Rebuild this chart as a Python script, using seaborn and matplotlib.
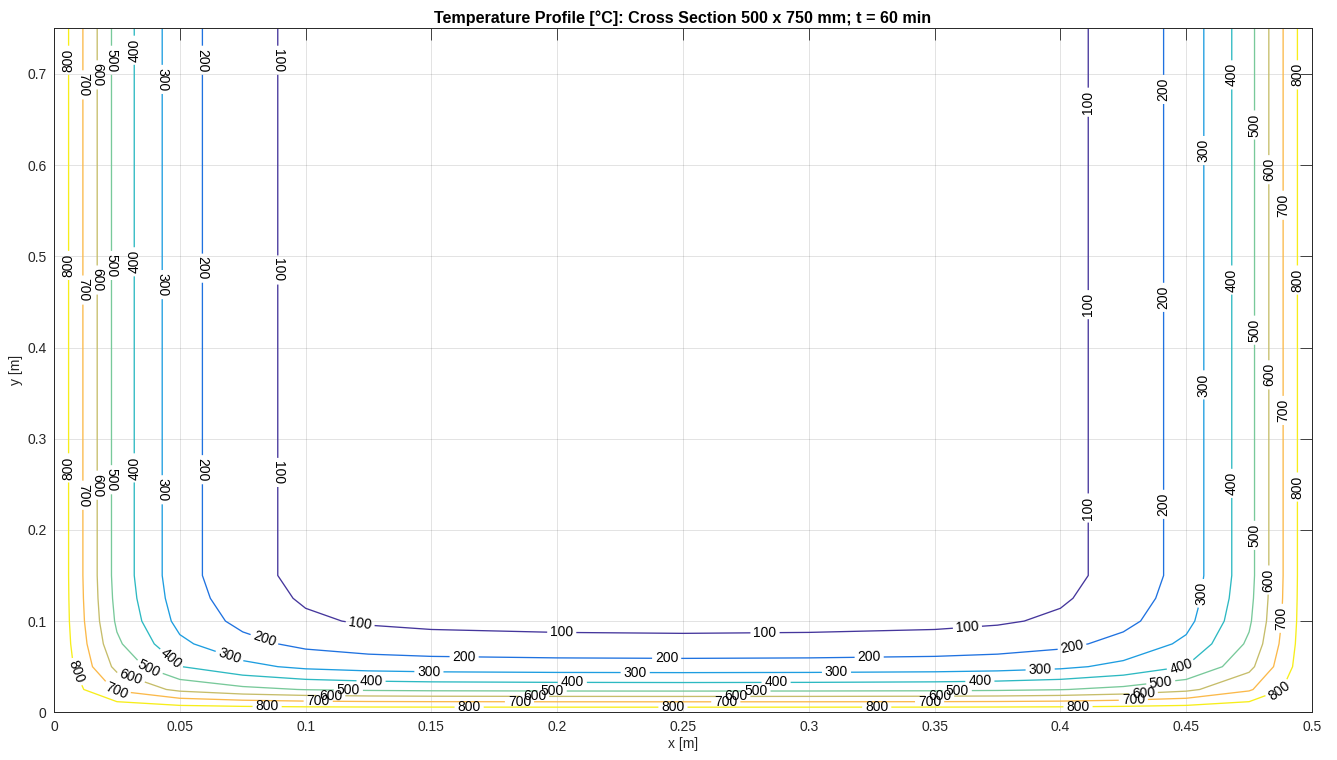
import numpy as np
import matplotlib
matplotlib.use("Agg")
import matplotlib.pyplot as plt
import seaborn as sns

# ---------------- data ----------------
# 1D temperature profiles [°C] versus distance [m] from a heated face
dist_nodes = [0.0, 0.025, 0.05, 0.075, 0.1, 0.125, 0.15, 0.2, 0.25]
temp_side = [902, 462, 237, 134, 73, 45, 32, 23, 20]
temp_bottom = [895, 470, 240, 130, 65, 36, 20, 20, 20]
temp_initial = 20
section_width = 0.5
section_height = 0.75

levels = [100, 200, 300, 400, 500, 600, 700, 800]
level_colors = ["#45369c", "#1f72e0", "#1d9de0", "#2db9c2",
                "#78c99a", "#c6bd6a", "#fbb94a", "#f7ee1a"]

x_ticks = [0, 0.05, 0.1, 0.15, 0.2, 0.25, 0.3, 0.35, 0.4, 0.45, 0.5]
x_tick_labels = ["0", "0.05", "0.1", "0.15", "0.2", "0.25", "0.3", "0.35", "0.4", "0.45", "0.5"]
y_ticks = [0, 0.1, 0.2, 0.3, 0.4, 0.5, 0.6, 0.7]
y_tick_labels = ["0", "0.1", "0.2", "0.3", "0.4", "0.5", "0.6", "0.7"]

title = "Temperature Profile [°C]: Cross Section 500 x 750 mm; t = 60 min"
x_label = "x [m]"
y_label = "y [m]"

# approximate label anchor points (snapped onto the contour of that level)
label_points = {
    800: [(0.006, 0.715), (0.006, 0.49), (0.006, 0.268), (0.0077, 0.043),
          (0.0847, 0.006), (0.165, 0.006), (0.246, 0.006), (0.327, 0.006), (0.407, 0.006),
          (0.4865, 0.027), (0.4945, 0.699), (0.4945, 0.474), (0.4945, 0.247)],
    700: [(0.0115, 0.688), (0.0115, 0.463), (0.0115, 0.238), (0.0249, 0.0245),
          (0.105, 0.012), (0.185, 0.012), (0.267, 0.012), (0.348, 0.012), (0.429, 0.012),
          (0.488, 0.103), (0.4885, 0.556), (0.4885, 0.331)],
    600: [(0.017, 0.699), (0.017, 0.474), (0.017, 0.249), (0.030, 0.0336),
          (0.110, 0.018), (0.191, 0.018), (0.271, 0.018), (0.352, 0.018), (0.433, 0.018),
          (0.483, 0.595), (0.483, 0.370), (0.483, 0.145)],
    500: [(0.023, 0.715), (0.023, 0.49), (0.023, 0.255), (0.0375, 0.046),
          (0.117, 0.025), (0.198, 0.025), (0.279, 0.025), (0.359, 0.025), (0.440, 0.030),
          (0.477, 0.644), (0.477, 0.419), (0.477, 0.194)],
    400: [(0.032, 0.726), (0.032, 0.494), (0.032, 0.268), (0.046, 0.057),
          (0.126, 0.032), (0.206, 0.032), (0.287, 0.032), (0.368, 0.032), (0.448, 0.05),
          (0.468, 0.699), (0.468, 0.474), (0.468, 0.251)],
    300: [(0.043, 0.694), (0.043, 0.469), (0.043, 0.244), (0.0693, 0.058),
          (0.149, 0.043), (0.231, 0.043), (0.311, 0.043), (0.392, 0.043),
          (0.457, 0.130), (0.457, 0.616), (0.457, 0.359)],
    200: [(0.059, 0.715), (0.059, 0.487), (0.059, 0.266), (0.0825, 0.071),
          (0.163, 0.059), (0.2435, 0.059), (0.324, 0.059), (0.405, 0.066),
          (0.441, 0.683), (0.441, 0.455), (0.441, 0.228)],
    100: [(0.0889, 0.715), (0.0889, 0.485), (0.0889, 0.263),
          (0.1216, 0.0957), (0.2018, 0.087), (0.2826, 0.087), (0.363, 0.095),
          (0.411, 0.669), (0.411, 0.447), (0.411, 0.224)],
}

# ---------------- build the temperature field ----------------
d = np.asarray(dist_nodes)
x_nodes = np.unique(np.round(np.concatenate([d, section_width - d]), 6))
y_nodes = np.unique(np.round(np.concatenate([d, np.arange(0.3, section_height + 1e-9, 0.05)]), 6))
X, Y = np.meshgrid(x_nodes, y_nodes)

t_ref = max(temp_side[0], temp_bottom[0])


def theta(dist, prof):
    return (np.interp(dist, dist_nodes, prof) - temp_initial) / (t_ref - temp_initial)


th = 1 - (1 - theta(X, temp_side)) * (1 - theta(section_width - X, temp_side)) * (1 - theta(Y, temp_bottom))
T = temp_initial + th * (t_ref - temp_initial)

# ---------------- plot ----------------
sns.set_theme(style="white")
plt.rcParams["font.family"] = ["Liberation Sans", "DejaVu Sans"]

fig = plt.figure(figsize=(13.37, 7.6), dpi=100)
ax = fig.add_axes([0.0404, 0.0628, 0.9409, 0.8999])

palette = sns.color_palette(level_colors)
cs = ax.contour(x_nodes, y_nodes, T, levels=levels, colors=palette, linewidths=0.95)

# set up labelling for all levels, then place labels level by level
ax.clabel(cs, levels=levels, manual=[], inline=True, inline_spacing=3,
          fontsize=10, fmt="%d", colors="black")
for i, lev in enumerate(levels):
    cs.labelIndiceList = [i]
    for (px, py) in label_points[lev]:
        cs.add_label_near(px, py, inline=True, inline_spacing=3)
cs.labelIndiceList = list(range(len(levels)))

# orient vertical labels like the reference
for t in ax.texts:
    try:
        val = int(t.get_text())
    except ValueError:
        continue
    rot = t.get_rotation() % 360
    if min(abs(rot - 90), abs(rot - 270)) < 20:
        x, _ = t.get_position()
        if x > section_width / 2 or val in (400, 800):
            t.set_rotation(90)
        else:
            t.set_rotation(270)

ax.set_xlim(0, section_width)
ax.set_ylim(0, section_height)
ax.set_xticks(x_ticks)
ax.set_xticklabels(x_tick_labels)
ax.set_yticks(y_ticks)
ax.set_yticklabels(y_tick_labels)

ax.grid(True, color="#262626", alpha=0.13, linewidth=0.7)
ax.set_axisbelow(True)
ax.tick_params(direction="in", length=8.5, width=0.6, top=True, right=True,
               colors="#262626", labelsize=10, pad=5.5)
for s in ax.spines.values():
    s.set_color("#262626")
    s.set_linewidth(0.7)

ax.set_title(title, fontsize=11.6, fontweight="bold", color="black", pad=4)
ax.set_xlabel(x_label, fontsize=10, color="#262626", labelpad=2)
ax.set_ylabel(y_label, fontsize=10, color="#262626", labelpad=3)

fig.savefig("out.png", dpi=100)
